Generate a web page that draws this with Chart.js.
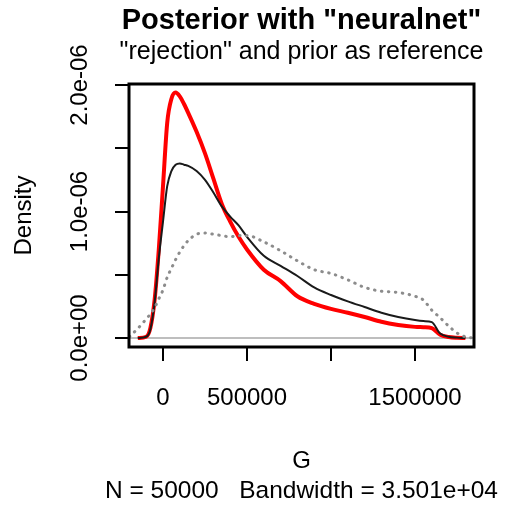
<!DOCTYPE html>
<html>
<head>
<meta charset="utf-8">
<script src="https://cdn.jsdelivr.net/npm/chart.js@4.4.1/dist/chart.umd.min.js"></script>
<style>
  html, body { margin: 0; padding: 0; background: #ffffff; }
  #wrap { width: 508px; height: 510px; }
</style>
</head>
<body>
<div id="wrap"><canvas id="c" width="508" height="510"></canvas></div>
<script>
// ---- data ----
const gValues = [-200000, -150000, -100000, -75000, -50000, -25000, 0, 25000, 50000, 75000,
  100000, 125000, 150000, 200000, 250000, 300000, 350000, 400000, 450000, 500000,
  600000, 700000, 800000, 900000, 1000000, 1100000, 1200000, 1300000, 1400000, 1500000,
  1550000, 1600000, 1650000, 1700000, 1750000, 1800000, 1850000];

// posterior "neuralnet" (red)
const densityNeuralnet = [null, 0, 0.01e-6, 0.08e-6, 0.30e-6, 0.70e-6, 1.20e-6, 1.70e-6, 1.89e-6, 1.94e-6,
  1.91e-6, 1.85e-6, 1.78e-6, 1.63e-6, 1.46e-6, 1.26e-6, 1.06e-6, 0.92e-6, 0.80e-6, 0.70e-6,
  0.54e-6, 0.45e-6, 0.33e-6, 0.27e-6, 0.23e-6, 0.20e-6, 0.166e-6, 0.128e-6, 0.103e-6, 0.088e-6,
  0.085e-6, 0.078e-6, 0.025e-6, 0.008e-6, 0.002e-6, 0, null];

// "rejection" (black)
const densityRejection = [null, 0, 0.01e-6, 0.07e-6, 0.28e-6, 0.63e-6, 0.92e-6, 1.20e-6, 1.32e-6, 1.37e-6,
  1.38e-6, 1.37e-6, 1.36e-6, 1.32e-6, 1.25e-6, 1.15e-6, 1.04e-6, 0.96e-6, 0.89e-6, 0.80e-6,
  0.65e-6, 0.57e-6, 0.49e-6, 0.40e-6, 0.34e-6, 0.29e-6, 0.245e-6, 0.20e-6, 0.166e-6, 0.142e-6,
  0.134e-6, 0.125e-6, 0.035e-6, 0.01e-6, 0.003e-6, 0, null];

// prior (grey dotted)
const densityPrior = [0.01e-6, 0.075e-6, 0.15e-6, 0.19e-6, 0.24e-6, 0.31e-6, 0.38e-6, 0.48e-6, 0.55e-6, 0.62e-6,
  0.68e-6, 0.73e-6, 0.77e-6, 0.82e-6, 0.83e-6, 0.82e-6, 0.81e-6, 0.80e-6, 0.81e-6, 0.81e-6,
  0.76e-6, 0.69e-6, 0.61e-6, 0.54e-6, 0.51e-6, 0.46e-6, 0.40e-6, 0.37e-6, 0.36e-6, 0.33e-6,
  0.30e-6, 0.22e-6, 0.16e-6, 0.095e-6, 0.04e-6, 0.01e-6, 0];

const xTickValues = [0, 500000, 1000000, 1500000];
const xTickLabels = ['0', '500000', '', '1500000'];
const yTickValues = [0, 0.5e-6, 1.0e-6, 1.5e-6, 2.0e-6];
const yTickLabels = ['0.0e+00', '', '1.0e-06', '', '2.0e-06'];

const titleText = 'Posterior with "neuralnet"';
const subtitleText = '"rejection" and prior as reference';
const xTitleLines = ['G', 'N = 50000   Bandwidth = 3.501e+04'];
const yTitleText = 'Density';
// ----------------------------------------------

const FONT = '"Liberation Sans", Arial, Helvetica, sans-serif';

function toPoints(ys) {
  return gValues.map((g, i) => ({ x: g, y: ys[i] }));
}

const boxPlugin = {
  id: 'rbox',
  beforeDatasetsDraw(chart) {
    const { ctx, chartArea, scales } = chart;
    const y0 = scales.y.getPixelForValue(0);
    ctx.save();
    ctx.strokeStyle = '#bebebe';
    ctx.lineWidth = 2;
    ctx.beginPath();
    ctx.moveTo(chartArea.left, y0);
    ctx.lineTo(chartArea.right, y0);
    ctx.stroke();
    ctx.restore();
  },
  afterDatasetsDraw(chart) {
    const { ctx, chartArea } = chart;
    ctx.save();
    ctx.strokeStyle = '#000';
    ctx.lineWidth = 3;
    ctx.strokeRect(chartArea.left, chartArea.top, chartArea.right - chartArea.left, chartArea.bottom - chartArea.top);
    ctx.restore();
  },
  afterDraw(chart) {
    // titles and x-axis labels, centred on the plot region, drawn without width squeezing
    const { ctx, chartArea } = chart;
    const cx = (chartArea.left + chartArea.right) / 2;
    ctx.save();
    ctx.fillStyle = '#000';
    ctx.textAlign = 'center';
    ctx.textBaseline = 'middle';
    ctx.font = 'bold 29px ' + FONT;
    ctx.fillText(titleText, cx, chartArea.top - 63);
    ctx.font = '25px ' + FONT;
    ctx.fillText(subtitleText, cx, chartArea.top - 32);
    ctx.font = '24px ' + FONT;
    ctx.fillText(xTitleLines[0], cx, chartArea.bottom + 114);
    ctx.font = '24.5px ' + FONT;
    ctx.fillText(xTitleLines[1], cx, chartArea.bottom + 144);
    ctx.restore();
  }
};

new Chart(document.getElementById('c'), {
  type: 'line',
  data: {
    datasets: [
      {
        label: 'prior',
        data: toPoints(densityPrior),
        borderColor: '#8c8c8c',
        borderWidth: 3,
        borderDash: [0.5, 6.5],
        borderCapStyle: 'round',
        pointRadius: 0,
        fill: false,
        cubicInterpolationMode: 'monotone'
      },
      {
        label: 'rejection',
        data: toPoints(densityRejection),
        borderColor: '#1a1a1a',
        borderWidth: 2,
        pointRadius: 0,
        fill: false,
        cubicInterpolationMode: 'monotone'
      },
      {
        label: 'neuralnet',
        data: toPoints(densityNeuralnet),
        borderColor: '#ff0000',
        borderWidth: 4,
        pointRadius: 0,
        fill: false,
        cubicInterpolationMode: 'monotone'
      }
    ]
  },
  options: {
    responsive: false,
    animation: false,
    events: [],
    layout: { padding: { left: 0, right: 34, top: 84, bottom: 0 } },
    plugins: {
      legend: { display: false },
      tooltip: { enabled: false },
      title: { display: false },
      subtitle: { display: false }
    },
    scales: {
      x: {
        type: 'linear',
        min: -202381,
        max: 1851190,
        afterBuildTicks(scale) { scale.ticks = xTickValues.map(v => ({ value: v })); },
        afterFit(scale) { scale.height = 163; },
        border: { display: false },
        grid: { display: true, drawOnChartArea: false, drawTicks: true, tickLength: 14, color: '#000', lineWidth: 2 },
        ticks: {
          color: '#000',
          font: { family: FONT, size: 24 },
          padding: 22.6,
          maxRotation: 0,
          minRotation: 0,
          autoSkip: false,
          callback: (v, i) => xTickLabels[i]
        },
        title: { display: false }
      },
      y: {
        type: 'linear',
        min: -0.0711e-6,
        max: 2.0079e-6,
        afterBuildTicks(scale) { scale.ticks = yTickValues.map(v => ({ value: v })); },
        afterFit(scale) { scale.width = 129; },
        border: { display: false },
        grid: { display: true, drawOnChartArea: false, drawTicks: true, tickLength: 14, color: '#000', lineWidth: 2 },
        ticks: {
          color: '#000',
          font: { family: FONT, size: 24 },
          padding: -8.7,
          crossAlign: 'center',
          minRotation: 90,
          maxRotation: 90,
          autoSkip: false,
          callback: (v, i) => yTickLabels[i]
        },
        title: {
          display: true,
          text: yTitleText,
          color: '#000',
          font: { family: FONT, size: 24, lineHeight: 1.2 },
          padding: { top: 10, bottom: 0 }
        }
      }
    }
  },
  plugins: [boxPlugin]
});
</script>
</body>
</html>
